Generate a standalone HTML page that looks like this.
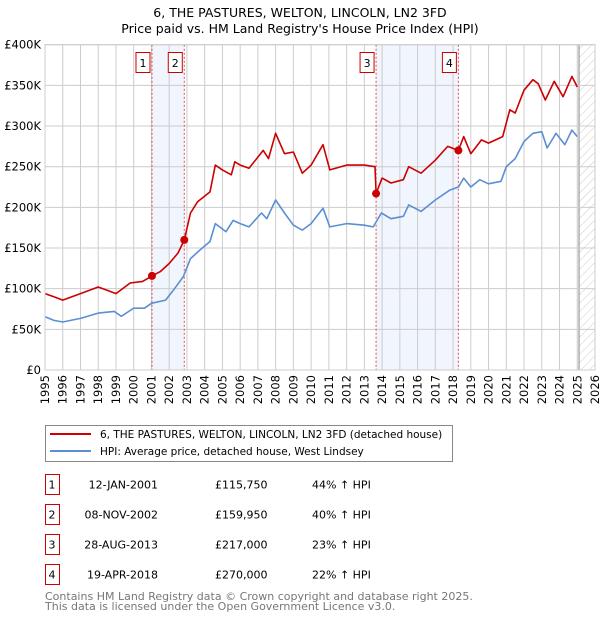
<!DOCTYPE html>
<html><head><meta charset="utf-8"><style>
body{margin:0;background:#fff;font-family:"Liberation Sans","DejaVu Sans",sans-serif;}
svg text{font-family:"DejaVu Sans","Liberation Sans",sans-serif;}
</style></head><body>
<svg id="c" width="600" height="620" xmlns="http://www.w3.org/2000/svg">
<defs><pattern id="hatch" width="6" height="6" patternUnits="userSpaceOnUse" patternTransform="rotate(45)"><line x1="0" y1="0" x2="0" y2="6" stroke="#ccc" stroke-width="1"/></pattern></defs>
<text x="300" y="17" text-anchor="middle" font-size="12.5" fill="#000">6, THE PASTURES, WELTON, LINCOLN, LN2 3FD</text>
<text x="300" y="33" text-anchor="middle" font-size="12.5" fill="#000">Price paid vs. HM Land Registry's House Price Index (HPI)</text>
<g id="plot"></g>
<g>
<rect x="45.5" y="425.5" width="407" height="36" fill="#fff" stroke="#888"/>
<line x1="50" y1="434" x2="91" y2="434" stroke="#cc0000" stroke-width="2"/>
<text x="100" y="438" font-size="10.5">6, THE PASTURES, WELTON, LINCOLN, LN2 3FD (detached house)</text>
<line x1="50" y1="451" x2="91" y2="451" stroke="#5b8fd4" stroke-width="2"/>
<text x="100" y="455" font-size="10.5">HPI: Average price, detached house, West Lindsey</text>
</g>
<g id="table" font-size="11"></g>
<text x="45" y="600" font-size="11" fill="#777">Contains HM Land Registry data © Crown copyright and database right 2025.</text>
<text x="45" y="610" font-size="11" fill="#777">This data is licensed under the Open Government Licence v3.0.</text>
</svg>
<script>
const years=[1995,1996,1997,1998,1999,2000,2001,2002,2003,2004,2005,2006,2007,2008,2009,2010,2011,2012,2013,2014,2015,2016,2017,2018,2019,2020,2021,2022,2023,2024,2025,2026];
const yTicks=[0,50,100,150,200,250,300,350,400];
const hpiT=[1995,1995.5,1996,1997,1998,1998.9,1999.3,2000,2000.6,2001,2001.8,2002.3,2002.8,2003.2,2003.7,2004.3,2004.6,2005.2,2005.6,2006,2006.5,2007.2,2007.5,2008,2008.5,2009,2009.5,2010,2010.67,2011.05,2012,2013,2013.5,2013.96,2014.5,2015.2,2015.5,2016.2,2017,2017.8,2018.3,2018.6,2019,2019.5,2020,2020.7,2021,2021.5,2022,2022.5,2023,2023.3,2023.8,2024.3,2024.7,2025];
const hpiV=[65.6,61,59,63.5,70,72,66,76,76,82,86,100,115,137,147,158,180,170,184,180,176,193,186,209,193,178,172,180,199,176,180,178,176,193,186,189,203,195,209,221,225,236,225,234,229,232,250,260,281,291,293,273,291,277,295,287];
const priceT=[1995,1995.5,1996,1997,1998,1998.5,1999,1999.8,2000.5,2001.03,2001.5,2002,2002.5,2002.85,2003.2,2003.6,2004.3,2004.6,2005,2005.5,2005.7,2006,2006.5,2007.3,2007.6,2008,2008.5,2009,2009.5,2010,2010.67,2011.05,2012,2013,2013.6,2013.66,2014,2014.5,2015.2,2015.5,2016.2,2017,2017.7,2018.3,2018.6,2019,2019.6,2020,2020.8,2021.2,2021.5,2022,2022.5,2022.8,2023.2,2023.7,2024.2,2024.7,2025];
const priceV=[94,90,86,94,102,98,94,107,109,115.75,121,131,144,159.95,193,207,219,252,246,240,256,252,248,270,260,291,266,268,242,252,277,246,252,252,250,217,236,230,234,250,242,258,275,270,287,266,283,279,287,320,316,344,357,352,332,355,336,361,348];
const saleT=[2001.03,2002.85,2013.66,2018.3];
const saleV=[115.75,159.95,217,270];
const saleLabels=["1","2","3","4"];
const saleDates=["12-JAN-2001","08-NOV-2002","28-AUG-2013","19-APR-2018"];
const salePrices=["£115,750","£159,950","£217,000","£270,000"];
const salePct=["44% ↑ HPI","40% ↑ HPI","23% ↑ HPI","22% ↑ HPI"];
const X0=45,X1=595,Y0=370,Y1=44.7;
const xs=t=>X0+(t-1995)/(2026-1995)*(X1-X0);
const ys=v=>Y0-v/400*(Y0-Y1);
const NS="http://www.w3.org/2000/svg";
const plot=document.getElementById('plot');
function mk(tag,attrs,parent){const e=document.createElementNS(NS,tag);for(const k in attrs)e.setAttribute(k,attrs[k]);(parent||plot).appendChild(e);return e;}
for(let i=0;i<2;i++){const a=xs(saleT[i*2]),b=xs(saleT[i*2+1]);
const r=mk('rect',{x:a,y:Y1,width:b-a,height:Y0-Y1,fill:'#eef3fc',opacity:0.8});

}
const h=mk('rect',{x:xs(2025.1),y:Y1,width:X1-xs(2025.1),height:Y0-Y1,fill:'url(#hatch)'});


mk('line',{x1:xs(2025.1),y1:Y1,x2:xs(2025.1),y2:Y0,stroke:'#999','stroke-width':1.2});
years.forEach(y=>{const l=mk('line',{x1:xs(y),y1:Y1,x2:xs(y),y2:Y0,stroke:'#ccc','stroke-width':1});


const t=mk('text',{x:0,y:0,'font-size':11.5,'text-anchor':'end',transform:`translate(${xs(y)+4},375) rotate(-90)`});
t.textContent=y;

});
yTicks.forEach(v=>{const l=mk('line',{x1:X0,y1:ys(v),x2:X1,y2:ys(v),stroke:'#ccc','stroke-width':1});


const t=mk('text',{x:41,y:ys(v)+4,'font-size':11.5,'text-anchor':'end'});
t.textContent=v===0?'£0':'£'+v+'K';

});
saleT.forEach((t,i)=>{const l=mk('line',{x1:xs(t),y1:Y1,x2:xs(t),y2:Y0,stroke:'#e05050','stroke-width':1,'stroke-dasharray':'2,2'});


const g=mk('g',{});


mk('rect',{x:xs(t)-16,y:52.5,width:14,height:20,fill:'#fff',stroke:'#cc0000'},g);
const tx=mk('text',{x:xs(t)-9,y:67,'font-size':11,'text-anchor':'middle'},g);tx.textContent=saleLabels[i];});
function line(T,V,col,name){const d=T.map((t,i)=>(i?'L':'M')+xs(t).toFixed(1)+','+ys(V[i]).toFixed(1)).join('');
const p=mk('path',{d:d,fill:'none',stroke:col,'stroke-width':1.6,'stroke-linejoin':'round'});

}
line(hpiT,hpiV,'#5b8fd4','hpi-line');
line(priceT,priceV,'#cc0000','price-line');
saleT.forEach((t,i)=>{const c=mk('circle',{cx:xs(t),cy:ys(saleV[i]),r:4,fill:'#cc0000'});

});
mk('rect',{x:X0,y:Y1,width:X1-X0,height:Y0-Y1,fill:'none',stroke:'#ccc'});
const tb=document.getElementById('table');
saleLabels.forEach((s,i)=>{const y=485+i*30;
const g=mk('g',{},tb);


mk('rect',{x:45.5,y:y-10.5,width:14,height:20,fill:'#fff',stroke:'#cc0000'},g);
let t=mk('text',{x:52,y:y+3.5,'text-anchor':'middle'},g);t.textContent=s;
t=mk('text',{x:158,y:y+3.5,'text-anchor':'end'},g);t.textContent=saleDates[i];
t=mk('text',{x:215,y:y+3.5},g);t.textContent=salePrices[i];
t=mk('text',{x:312,y:y+3.5},g);t.textContent=salePct[i];});
</script>
</body></html>
